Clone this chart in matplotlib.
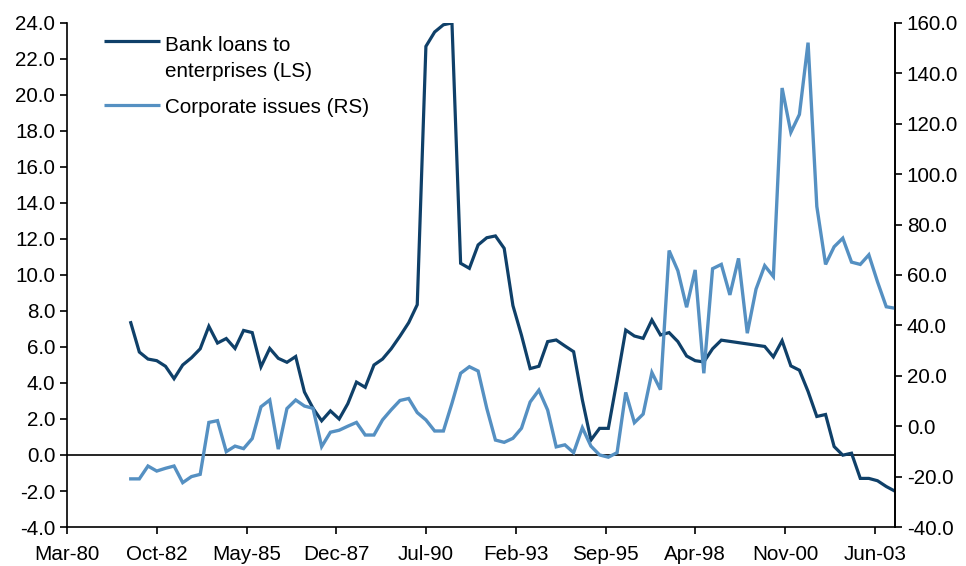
import numpy as np
import pandas as pd
import matplotlib
matplotlib.use("Agg")
import matplotlib.pyplot as plt
import matplotlib.dates as mdates
from matplotlib.ticker import FormatStrFormatter, MultipleLocator

plt.rcParams["font.family"] = ["Liberation Sans", "DejaVu Sans"]
plt.rcParams["axes.unicode_minus"] = False

# quarterly observations, Q4 1981 .. Q4 2003
DATES = pd.date_range("1981-12-31", "2003-12-31", freq="QE")

# bank loans to enterprises, % (left scale); None = no observation
BANK_LOANS = [
    7.35, 5.72, 5.33, 5.24, 4.93, 4.24, 5.0, 5.4, 5.9, 7.15,
    6.22, 6.47, 5.92, 6.92, 6.8, 4.9, 5.92, 5.37, 5.15, 5.47,
    3.5, 2.6, 1.9, 2.45, 2.0, 2.85, 4.05, 3.76, 5.0, 5.33,
    5.9, 6.6, 7.35, 8.35, 22.7, 23.5, 23.9, 24.0, 10.65, 10.37,
    11.67, 12.07, 12.17, 11.48, 8.3, 6.65, 4.8, 4.93, 6.3, 6.39,
    6.06, 5.74, 3.06, 0.83, 1.48, 1.48, 4.17, 6.94, 6.61, 6.48,
    7.5, 6.67, 6.8, 6.3, 5.5, 5.24, 5.17, 5.9, 6.38, None,
    None, None, None, 6.03, 5.45, 6.35, 4.95, 4.71, 3.53, 2.14,
    2.25, 0.47, -0.01, 0.1, -1.3, -1.3, -1.43, -1.75, -2.01,
]

# corporate issues (right scale)
CORP_ISSUES = [
    -20.9, -20.9, -15.8, -17.8, -16.7, -15.8, -22.4, -20.0, -19.1, 1.5,
    2.2, -10.1, -7.9, -8.9, -4.9, 7.7, 10.4, -9.1, 7.0, 10.4,
    8.0, 7.1, -8.1, -2.4, -1.6, 0.0, 1.5, -3.5, -3.5, 2.5,
    6.5, 10.2, 11.0, 5.4, 2.5, -1.9, -1.9, 9.1, 21.0, 23.6,
    21.9, 7.1, -5.5, -6.4, -4.8, -0.8, 9.6, 14.3, 6.4, -8.2,
    -7.4, -10.5, -0.6, -7.9, -11.4, -12.3, -10.5, 13.4, 1.4, 4.8,
    21.3, 14.5, 69.7, 61.7, 47.2, 62.0, 21.0, 62.5, 64.2, 52.1,
    66.6, 36.9, 54.4, 63.7, 59.4, 134.2, 116.6, 123.7, 152.2, 87.2,
    64.2, 71.2, 74.6, 65.1, 64.2, 68.0, 57.3, 47.4, 46.8,
]

DARK = "#0f4069"
LIGHT = "#5590c2"
FS = 14.9

fig = plt.figure(figsize=(9.66, 5.66), dpi=100)
ax = fig.add_axes([0.0694, 0.0689, 0.8571, 0.8905])
ax2 = ax.twinx()

loans = np.array([np.nan if v is None else v for v in BANK_LOANS])
ok = ~np.isnan(loans)
ax.plot(DATES[ok], loans[ok], color=DARK, lw=2.3, solid_joinstyle="miter")
ax2.plot(DATES, CORP_ISSUES, color=LIGHT, lw=2.4, solid_joinstyle="miter")
ax.axhline(0, color="black", lw=1.2, zorder=1)

ax.set_xlim(pd.Timestamp("1980-03-01"), pd.Timestamp("2003-12-31"))
ax.set_ylim(-4, 24)
ax2.set_ylim(-40, 160)
ax.yaxis.set_major_locator(MultipleLocator(2))
ax2.yaxis.set_major_locator(MultipleLocator(20))
ax.yaxis.set_major_formatter(FormatStrFormatter("%.1f"))
ax2.yaxis.set_major_formatter(FormatStrFormatter("%.1f"))

ax.set_xticks(pd.date_range("1980-03-01", periods=10, freq="31MS"))
ax.xaxis.set_major_formatter(mdates.DateFormatter("%b-%y"))

for a in (ax, ax2):
    a.spines["top"].set_visible(False)
    for s in ("left", "right", "bottom"):
        a.spines[s].set_linewidth(1.2)
    a.tick_params(labelsize=FS, length=5, width=1.2, colors="black")
ax.tick_params(axis="x", pad=8)
ax2.spines["left"].set_visible(False)
ax2.spines["bottom"].set_visible(False)

# legend drawn by hand so the key sits on the first text line, as in the original
tr = ax.transAxes
ax.plot([0.045, 0.112], [0.965, 0.965], transform=tr, color=DARK, lw=2.3,
        solid_capstyle="butt", clip_on=False)
ax.plot([0.045, 0.112], [0.837, 0.837], transform=tr, color=LIGHT, lw=2.3,
        solid_capstyle="butt", clip_on=False)
ax.text(0.118, 0.945, "Bank loans to", transform=tr, fontsize=FS, va="baseline")
ax.text(0.118, 0.8935, "enterprises (LS)", transform=tr, fontsize=FS, va="baseline")
ax.text(0.118, 0.8208, "Corporate issues (RS)", transform=tr, fontsize=FS, va="baseline")

fig.savefig("out.png", dpi=100)
